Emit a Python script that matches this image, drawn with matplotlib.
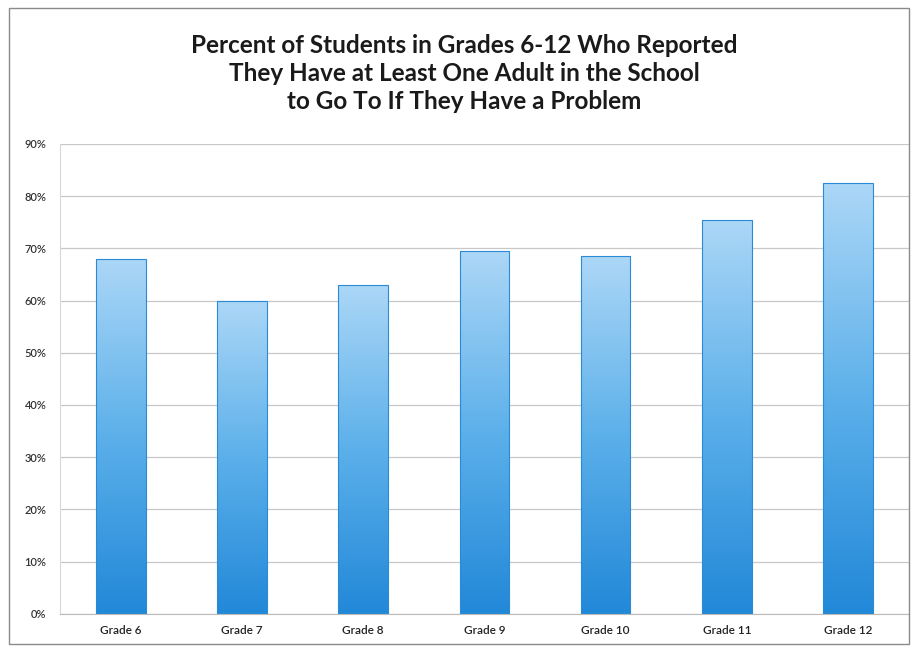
import matplotlib.pyplot as plt
import numpy as np
from matplotlib.colors import LinearSegmentedColormap
from matplotlib.patches import Rectangle

grades = ['Grade 6', 'Grade 7', 'Grade 8', 'Grade 9', 'Grade 10', 'Grade 11', 'Grade 12']
percent = [68, 60, 63, 69.5, 68.5, 75.5, 82.5]
yticks = [0, 10, 20, 30, 40, 50, 60, 70, 80, 90]

plt.rcParams['font.family'] = ['Lato', 'DejaVu Sans']

fig = plt.figure(figsize=(9.14, 6.51), dpi=100)
ax = fig.add_axes([0.066, 0.057, 0.928, 0.722])

# border round the whole chart
fig.patches.append(Rectangle((0.010, 0.010), 0.985, 0.978, transform=fig.transFigure,
                             fill=False, edgecolor='#8a8a8a', linewidth=1.0))

cmap = LinearSegmentedColormap.from_list('bluegrad', ['#2288d8', '#5cb0ea', '#acd7f7'])
grad = np.linspace(0, 1, 256).reshape(-1, 1)

x = np.arange(len(grades))
bars = ax.bar(x, percent, width=0.41, color='none', edgecolor='#2a8ad6', linewidth=0.8, zorder=3)
for b in bars:
    x0, w, h = b.get_x(), b.get_width(), b.get_height()
    im = ax.imshow(grad, cmap=cmap, origin='lower', aspect='auto',
                   extent=[x0, x0 + w, 0, h], zorder=2)
    im.set_clip_path(b)

ax.set_xlim(-0.5, len(grades) - 0.5)
ax.set_ylim(0, 90)
ax.set_yticks(yticks)
ax.set_yticklabels([f'{v}%' for v in yticks], fontsize=8, color='#333333', fontweight='semibold')
ax.set_xticks(x)
ax.set_xticklabels(grades, fontsize=8.5, color='#222222', fontweight='semibold')
ax.tick_params(length=0, pad=10)
ax.tick_params(axis='x', pad=8)
ax.yaxis.grid(True, color='#c8c8c8', linewidth=0.9, zorder=0)
ax.set_axisbelow(True)
for s in ['top', 'right']:
    ax.spines[s].set_visible(False)
ax.spines['left'].set_color('#d8d8d8')
ax.spines['bottom'].set_color('#bbbbbb')

fig.text(0.508, 0.887, 'Percent of Students in Grades 6-12 Who Reported\n'
         'They Have at Least One Adult in the School\n'
         'to Go To If They Have a Problem',
         ha='center', va='center', fontsize=17.5, fontweight='bold',
         color='#1a1a1a', linespacing=1.25)

fig.savefig('out.png', dpi=100)
